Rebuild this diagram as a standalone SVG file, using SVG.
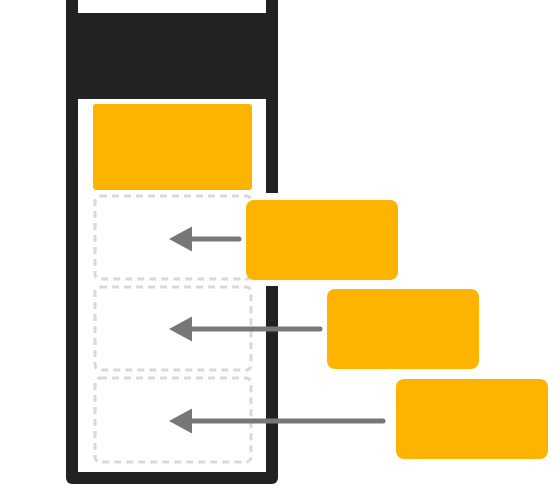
<svg xmlns="http://www.w3.org/2000/svg" width="555" height="485" viewBox="0 0 555 485">
<style>
.slot{fill:none;stroke:#d9d9d9;stroke-width:3;stroke-dasharray:7 5}
.box{fill:#FDB400}
.conn line{stroke:#777;stroke-width:5;stroke-linecap:round}
.conn polygon{fill:#777}
</style>
<rect width="555" height="485" fill="#fff"/>
<g id="frame">
<rect x="66" y="-20" width="212" height="504" rx="6" fill="#222"/>
<rect x="78" y="-20" width="188" height="33" fill="#fff"/>
<rect x="78" y="99" width="188" height="373" fill="#fff"/>
</g>
<g id="slots">
<rect class="slot" x="95" y="196" width="156" height="83" rx="5"/>
<rect class="slot" x="95" y="287" width="156" height="83" rx="5"/>
<rect class="slot" x="95" y="378" width="156" height="84" rx="5"/>
</g>
<g id="top-block"><rect class="box" x="93" y="104" width="159" height="86" rx="3"/></g>
<rect x="262" y="193" width="22" height="93" fill="#fff"/>
<g class="conn" id="connectors">
<line x1="190" y1="239" x2="239" y2="239"/><polygon points="169,239 192,226.5 192,251.5"/>
<line x1="190" y1="329" x2="320" y2="329"/><polygon points="169,329 192,316.5 192,341.5"/>
<line x1="190" y1="421" x2="383" y2="421"/><polygon points="169,421 192,408.5 192,433.5"/>
</g>
<g id="node1"><rect class="box" x="246" y="200" width="152" height="80" rx="8"/></g>
<g id="node2"><rect class="box" x="327" y="289" width="152" height="80" rx="8"/></g>
<g id="node3"><rect class="box" x="396" y="379" width="152" height="80" rx="8"/></g>
</svg>
